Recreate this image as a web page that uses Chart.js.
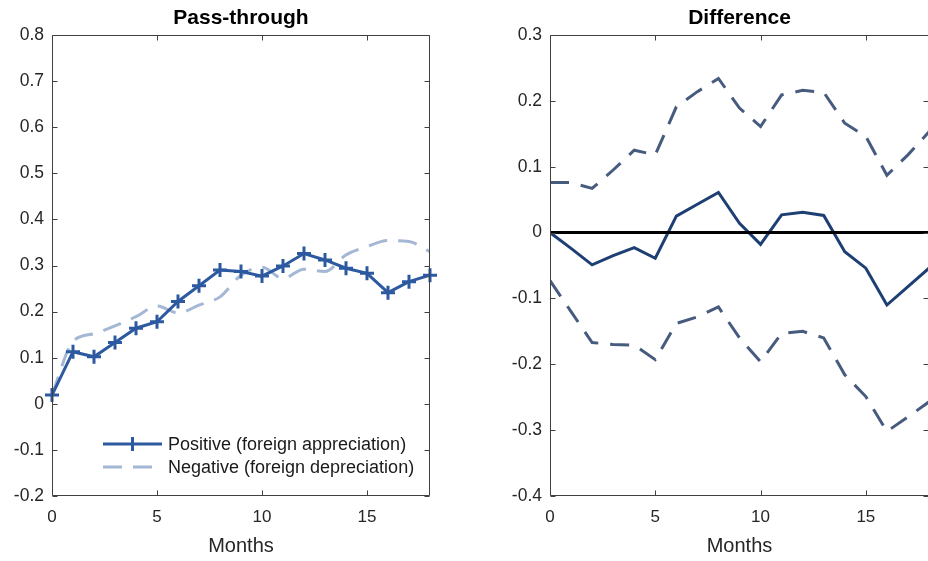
<!DOCTYPE html>
<html>
<head>
<meta charset="utf-8">
<script src="https://cdn.jsdelivr.net/npm/chart.js@4"></script>
<style>
html, body { margin: 0; padding: 0; background: #fff; overflow: hidden; width: 928px; height: 561px; }
.panel { position: absolute; top: 0; height: 561px; width: 470px; }
#leftPanel { left: 0; }
#rightPanel { left: 470px; }
</style>
</head>
<body>
<div class="panel" id="leftPanel"><canvas id="passChart"></canvas></div>
<div class="panel" id="rightPanel"><canvas id="diffChart"></canvas></div>
<script>
// data
var months = [0, 1, 2, 3, 4, 5, 6, 7, 8, 9, 10, 11, 12, 13, 14, 15, 16, 17, 18];
var positive = [0.019, 0.113, 0.102, 0.133, 0.164, 0.178, 0.222, 0.256, 0.290, 0.287, 0.277, 0.299, 0.326, 0.312, 0.294, 0.283, 0.241, 0.265, 0.279];
var negative = [0.020, 0.135, 0.152, 0.169, 0.189, 0.212, 0.197, 0.214, 0.232, 0.279, 0.296, 0.272, 0.292, 0.287, 0.323, 0.341, 0.354, 0.352, 0.330];
var diffMid = [0, -0.024, -0.049, -0.035, -0.023, -0.039, 0.025, 0.043, 0.061, 0.014, -0.018, 0.027, 0.031, 0.026, -0.029, -0.054, -0.110, -0.082, -0.054];
var diffUpper = [0.076, 0.076, 0.067, 0.095, 0.125, 0.118, 0.191, 0.214, 0.234, 0.189, 0.161, 0.209, 0.216, 0.213, 0.166, 0.146, 0.087, 0.118, 0.153];
var diffLower = [-0.073, -0.120, -0.167, -0.170, -0.171, -0.193, -0.138, -0.128, -0.113, -0.160, -0.196, -0.153, -0.150, -0.160, -0.216, -0.249, -0.302, -0.280, -0.257];
var zeroLine = [0, 0];

var monthTicks = [0, 5, 10, 15];
var passTicks = [-0.2, -0.1, 0, 0.1, 0.2, 0.3, 0.4, 0.5, 0.6, 0.7, 0.8];
var diffTicks = [-0.4, -0.3, -0.2, -0.1, 0, 0.1, 0.2, 0.3];

var labelPos = 'Positive (foreign appreciation)';
var labelNeg = 'Negative (foreign depreciation)';

Chart.defaults.font.family = "'Liberation Sans', Arial, Helvetica, sans-serif";
Chart.defaults.color = '#262626';

function toPoints(ys){
	var pts = [];
	for(var i in ys){
		pts.push({x: months[i], y: ys[i]});
	}
	return pts;
}

function fmt(v){
	return String(Math.round(v * 10) / 10);
}

// box round the plot with inward ticks on all four sides (matlab style)
var boxAxes = {
	id: 'boxAxes',
	afterDraw: function(chart){
		var ctx = chart.ctx, a = chart.chartArea;
		var xs = chart.scales.x, ys = chart.scales.y;
		var L = Math.round(a.left) + 0.5, R = Math.round(a.right) - 0.5;
		var T = Math.round(a.top) + 0.5, B = Math.round(a.bottom) - 0.5;
		ctx.save();
		ctx.strokeStyle = '#404040';
		ctx.lineWidth = 1;
		ctx.beginPath();
		ctx.rect(L, T, R - L, B - T);
		xs.ticks.forEach(function(t){
			var px = Math.round(xs.getPixelForValue(t.value)) + 0.5;
			ctx.moveTo(px, B); ctx.lineTo(px, B - 5);
			ctx.moveTo(px, T); ctx.lineTo(px, T + 5);
		});
		ys.ticks.forEach(function(t){
			var py = Math.round(ys.getPixelForValue(t.value)) + 0.5;
			ctx.moveTo(L, py); ctx.lineTo(L + 5, py);
			ctx.moveTo(R, py); ctx.lineTo(R - 5, py);
		});
		ctx.stroke();
		ctx.restore();
	}
};

// legend inside the left plot, lower left
var innerLegend = {
	id: 'innerLegend',
	afterDraw: function(chart){
		var ctx = chart.ctx, a = chart.chartArea;
		var x0 = a.left + 51, x1 = a.left + 110, tx = a.left + 116;
		var rows = [a.bottom - 52, a.bottom - 29];
		ctx.save();
		chart.data.datasets.forEach(function(ds, i){
			var y = rows[i];
			ctx.strokeStyle = ds.borderColor;
			ctx.lineWidth = ds.borderWidth;
			ctx.setLineDash(ds.borderDash || []);
			ctx.beginPath();
			ctx.moveTo(x0, y); ctx.lineTo(x1, y);
			ctx.stroke();
			ctx.setLineDash([]);
			if(ds.pointStyle === 'cross'){
				var mx = (x0 + x1) / 2;
				ctx.lineWidth = 3;
				ctx.beginPath();
				ctx.moveTo(mx, y - 7); ctx.lineTo(mx, y + 7);
				ctx.stroke();
			}
			ctx.fillStyle = '#1a1a1a';
			ctx.font = "18px 'Liberation Sans', Arial, sans-serif";
			ctx.textBaseline = 'middle';
			ctx.textAlign = 'left';
			ctx.fillText(ds.label, tx, y + 1);
		});
		ctx.restore();
	}
};

function makeScales(yMin, yMax, yTicks, yWidth){
	return {
		x: {
			type: 'linear', min: 0, max: 18,
			grid: {display: false, drawTicks: false},
			border: {display: false},
			afterBuildTicks: function(s){ s.ticks = monthTicks.map(function(v){ return {value: v}; }); },
			ticks: {padding: 11, font: {size: 17}, maxRotation: 0, autoSkip: false, callback: fmt},
			title: {display: true, text: 'Months', font: {size: 20}, padding: {top: 0, bottom: 3}},
			afterFit: function(s){ s.height = 65; }
		},
		y: {
			type: 'linear', min: yMin, max: yMax,
			grid: {display: false, drawTicks: false},
			border: {display: false},
			afterBuildTicks: function(s){ s.ticks = yTicks.map(function(v){ return {value: v}; }); },
			ticks: {padding: 8, font: {size: 17.5}, autoSkip: false, callback: fmt},
			afterFit: function(s){ s.width = yWidth; }
		}
	};
}

function titleOpts(text){
	return {
		display: true, text: text, fullSize: false,
		font: {size: 21, weight: 'bold'}, color: '#000',
		padding: {top: 6, bottom: 3.8}
	};
}

var passData = {
	datasets: [
		{
			label: labelPos,
			data: toPoints(positive),
			borderColor: '#2C599F',
			backgroundColor: '#2C599F',
			borderWidth: 3,
			pointStyle: 'cross',
			pointRadius: 7,
			pointBorderWidth: 3,
			clip: 10,
			tension: 0
		},
		{
			label: labelNeg,
			data: toPoints(negative),
			borderColor: '#A4B7D4',
			backgroundColor: '#A4B7D4',
			borderWidth: 3,
			borderDash: [19, 11],
			pointRadius: 0,
			cubicInterpolationMode: 'monotone'
		}
	]
};

new Chart(document.getElementById('passChart'), {
	type: 'line',
	data: passData,
	options: {
		responsive: true,
		maintainAspectRatio: false,
		animation: false,
		layout: {padding: {left: 0, right: 40, top: 0, bottom: 0}},
		scales: makeScales(-0.2, 0.8, passTicks, 52),
		plugins: {
			title: titleOpts('Pass-through'),
			legend: {display: false},
			tooltip: {enabled: false}
		}
	},
	plugins: [boxAxes, innerLegend]
});

var diffData = {
	datasets: [
		{
			label: 'zero',
			data: [{x: months[0], y: zeroLine[0]}, {x: months[months.length - 1], y: zeroLine[1]}],
			borderColor: '#000',
			borderWidth: 3,
			pointRadius: 0
		},
		{
			label: 'Difference',
			data: toPoints(diffMid),
			borderColor: '#1E3F74',
			borderWidth: 3,
			pointRadius: 0
		},
		{
			label: 'Upper',
			data: toPoints(diffUpper),
			borderColor: '#465B7E',
			borderWidth: 3,
			borderDash: [19, 12],
			pointRadius: 0
		},
		{
			label: 'Lower',
			data: toPoints(diffLower),
			borderColor: '#465B7E',
			borderWidth: 3,
			borderDash: [19, 12],
			pointRadius: 0
		}
	]
};

new Chart(document.getElementById('diffChart'), {
	type: 'line',
	data: diffData,
	options: {
		responsive: true,
		maintainAspectRatio: false,
		animation: false,
		layout: {padding: {left: 0, right: 11, top: 0, bottom: 0}},
		scales: makeScales(-0.4, 0.3, diffTicks, 80),
		plugins: {
			title: titleOpts('Difference'),
			legend: {display: false},
			tooltip: {enabled: false}
		}
	},
	plugins: [boxAxes]
});
</script>
</body>
</html>
